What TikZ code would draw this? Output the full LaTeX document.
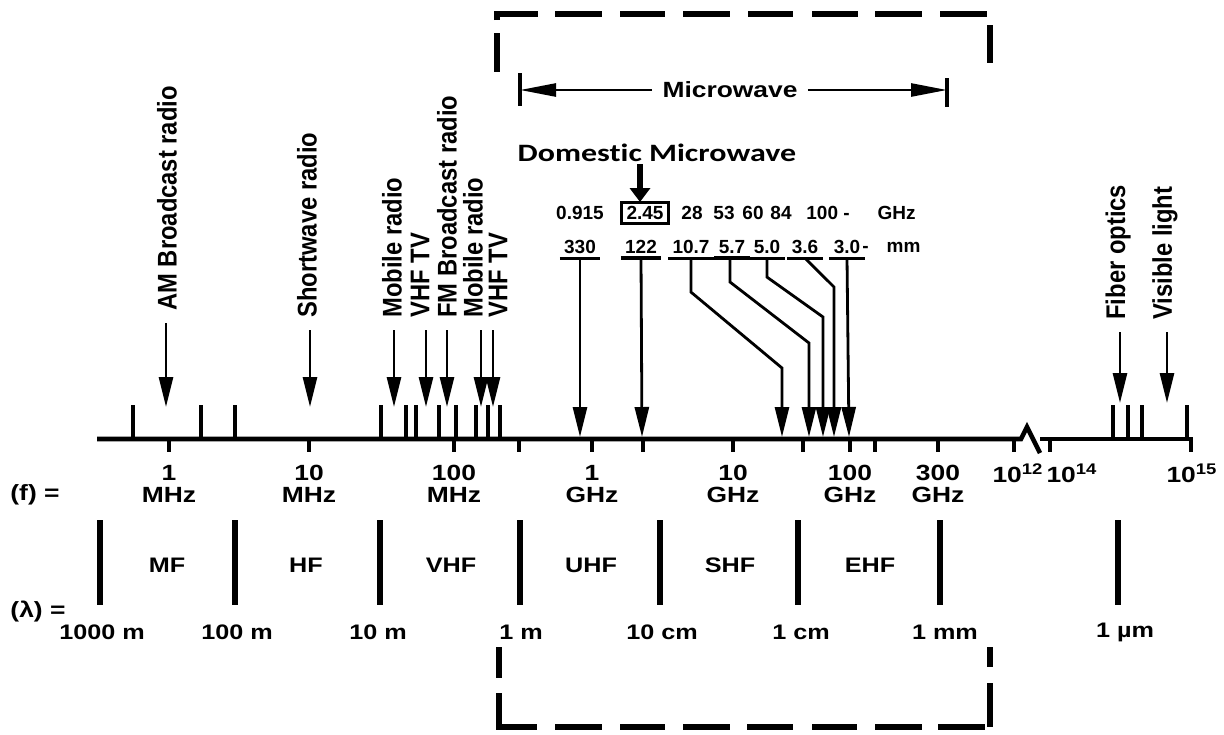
\documentclass[tikz,border=0pt]{standalone}
\usepackage{fontspec}
\setmainfont{Liberation Sans}
\newfontfamily\hf[FakeStretch=1.2]{Liberation Sans}
\newfontfamily\vf[FakeStretch=0.88]{Liberation Sans}
\newfontfamily\domf[FakeStretch=1.28,Ligatures=NoCommon]{Carlito}
\usetikzlibrary{arrows.meta}
\begin{document}
\begin{tikzpicture}[x=0.5pt,y=-0.5pt,
  axisline/.style={line width=2.3pt},
  tickline/.style={line width=1.9pt},
  bandline/.style={line width=2.6pt},
  dashbar/.style={line width=2.6pt},
  arr/.style={line width=1.4pt,-{Triangle[length=15pt,width=7pt]}},
  mwarr/.style={line width=1.3pt,-{Triangle[length=18pt,width=6.5pt]}},
  rlab/.style={rotate=90,anchor=west,inner sep=0pt,font=\vf\bfseries\fontsize{13.5}{14}\selectfont},
  flab/.style={align=center,inner sep=0pt,font=\hf\bfseries\fontsize{11}{11}\selectfont},
  blab/.style={inner sep=0pt,font=\hf\bfseries\fontsize{10.5}{12}\selectfont},
  num/.style={inner xsep=1pt,inner ysep=2pt,font=\bfseries\fontsize{9.5}{11}\selectfont},
]
\useasboundingbox (0,0) rectangle (1224,734);
\fill[white] (0,0) rectangle (1224,734);

% ---------- dashed brackets ----------
\draw[dashbar] (497,20) -- (497,14) -- (538,14);
\draw[dashbar] (497,33) -- (497,72);
\foreach \a/\b in {555/602,620/665,683/730,748/793,812/858,875/922,940/987}
  \draw[dashbar] (\a,14) -- (\b,14);
\draw[dashbar] (990,25) -- (990,63);
\draw[dashbar] (499,647) -- (499,678);
\draw[dashbar] (499,693) -- (499,727) -- (537,727);
\foreach \a/\b in {555/602,620/665,683/730,747/793,812/857,875/922,938/985}
  \draw[dashbar] (\a,727) -- (\b,727);
\draw[dashbar] (990,647) -- (990,667);
\draw[dashbar] (990,683) -- (990,727);

% ---------- Microwave header ----------
\node[font=\hf\bfseries\fontsize{11}{12}\selectfont,inner xsep=5pt,inner ysep=1pt] (mw) at (730,90) {Microwave};
\coordinate (mwL) at (520,90);
\coordinate (mwR) at (947,90);
\draw[mwarr] (mw.west) -- (mwL);
\draw[mwarr] (mw.east) -- (mwR);
\draw[line width=1.6pt] (mwL) ++(0,-17) -- ++(0,33);
\draw[line width=1.6pt] (mwR) ++(0,-12) -- ++(0,29);

% ---------- Domestic microwave ----------
\node[font=\domf\bfseries\fontsize{12.5}{14}\selectfont,inner sep=1pt] (dom) at (657,153) {Domestic Microwave};
\node[num,draw,line width=1.3pt,inner xsep=2.5pt,inner ysep=2pt] (g245) at (645,213) {2.45};
\coordinate (domtip) at (640,202);
\draw[line width=3pt,-{Triangle[length=7pt,width=10pt]}] (domtip |- dom.south) -- (domtip);

% GHz row
\node[num] (g0915) at (580,213) {0.915};
\node[num] (g28) at (692,213) {28};
\node[num] (g53) at (724,213) {53};
\node[num] (g60) at (753,213) {60};
\node[num] (g84) at (781,213) {84};
\node[num,anchor=west,inner xsep=0pt] (g100) at (806,213) {100 -\hspace{14pt}GHz};

% mm row
\node[num] (m330) at (580,247) {330};
\node[num] (m122) at (641,247) {122};
\node[num] (m107) at (691,247) {10.7};
\node[num] (m57) at (732,247) {5.7};
\node[num] (m50) at (767,247) {5.0};
\node[num] (m36) at (805,247) {3.6};
\node[num] (m30) at (847,247) {3.0};
\node[num,anchor=west,inner xsep=0pt] (munit) at (862,247) {-\hspace{9pt}mm};
\foreach \n in {m330,m122,m107,m57,m50,m36,m30}
  \draw[line width=1.6pt] ([xshift=-1pt]\n.south west) -- ([xshift=1pt]\n.south east);

% tips on the axis
\coordinate (t330) at (580,437);
\coordinate (t122) at (642,437);
\coordinate (t107) at (782,437);
\coordinate (t57) at (809,437);
\coordinate (t50) at (823,437);
\coordinate (t36) at (834,437);
\coordinate (t30) at (849,437);

\draw[arr] (m330.south) -- (t330);
\draw[arr] (m122.south) -- (t122);
\draw[arr] (m107.south) -- ++(0,34) -- (t107 |- 0,368) -- (t107);
\draw[arr] (m57.south) ++(-2,0) -- ++(0,24) -- (t57 |- 0,343) -- (t57);
\draw[arr] (m50.south) -- ++(0,19) -- (t50 |- 0,317) -- (t50);
\draw[arr] (m36.south) -- (t36 |- 0,287) -- (t36);
\draw[arr] (m30.south) -- (t30);

% ---------- rotated application labels ----------
\node[rlab] (lAM) at (167,311) {AM Broadcast radio};
\node[rlab] (lSW) at (307,318) {Shortwave radio};
\node[rlab] (lMob1) at (392,318) {Mobile radio};
\node[rlab] (lVHF1) at (420,318) {VHF TV};
\node[rlab] (lFM) at (447,318) {FM Broadcast radio};
\node[rlab] (lMob2) at (473,318) {Mobile radio};
\node[rlab] (lVHF2) at (498,318) {VHF TV};
\node[rlab] (lFib) at (1118,320) {Fiber optics};
\node[rlab] (lVis) at (1165,320) {Visible light};

\coordinate (tAM) at (166,407);
\coordinate (tSW) at (310,407);
\coordinate (tMob1) at (394,407);
\coordinate (tVHF1) at (426,407);
\coordinate (tFM) at (447,407);
\coordinate (tMob2) at (481,407);
\coordinate (tVHF2) at (493,407);
\coordinate (tFib) at (1120,403);
\coordinate (tVis) at (1167,403);
\foreach \l/\t in {lAM/tAM,lSW/tSW,lMob1/tMob1,lVHF1/tVHF1,lFM/tFM,lMob2/tMob2,lVHF2/tVHF2,lFib/tFib,lVis/tVis}
  \draw[arr,shorten <=6pt] (\t |- \l.west) -- (\t);

% ---------- axis ----------
\draw[axisline] (97,439) -- (1021,439) -- (1027,427) -- (1040,453);
\draw[axisline] (1040,439) -- (1193,439);
\foreach \x in {133,201,235,381,406,416,439,456,476,488,500,1113,1128,1142,1187}
  \draw[tickline] (\x,440) -- (\x,405);
\foreach \x in {169,309,454,519,592,643,733,803,850,875,938,1014,1050,1191}
  \draw[tickline] (\x,438) -- (\x,452);

% frequency labels
\node[flab] (f1) at (169,484) {1\\MHz};
\node[flab] (f2) at (309,484) {10\\MHz};
\node[flab] (f3) at (454,484) {100\\MHz};
\node[flab] (f4) at (592,484) {1\\GHz};
\node[flab] (f5) at (733,484) {10\\GHz};
\node[flab] (f6) at (850,484) {100\\GHz};
\node[flab] (f7) at (938,484) {300\\GHz};
\node[flab] (f8) at (1018,473) {10\textsuperscript{12}};
\node[flab] (f9) at (1072,473) {10\textsuperscript{14}};
\node[flab] (f10) at (1192,473) {10\textsuperscript{15}};
\node[flab] (feq) at (35,495) {(f) =};

% band lines and labels
\foreach \x in {100,235,380,520,660,798,940,1118}
  \draw[bandline] (\x,520) -- (\x,605);
\node[blab] (bMF) at (167,565) {MF};
\node[blab] (bHF) at (306,565) {HF};
\node[blab] (bVHF) at (451,565) {VHF};
\node[blab] (bUHF) at (591,565) {UHF};
\node[blab] (bSHF) at (730,565) {SHF};
\node[blab] (bEHF) at (870,565) {EHF};

% wavelength labels
\node[flab] (leq) at (38,612) {(λ) =};
\node[blab] (w1) at (102,632) {1000 m};
\node[blab] (w2) at (237,632) {100 m};
\node[blab] (w3) at (378,632) {10 m};
\node[blab] (w4) at (521,632) {1 m};
\node[blab] (w5) at (662,632) {10 cm};
\node[blab] (w6) at (801,632) {1 cm};
\node[blab] (w7) at (945,632) {1 mm};
\node[blab] (w8) at (1125,632) {1 µm};
\end{tikzpicture}
\end{document}
